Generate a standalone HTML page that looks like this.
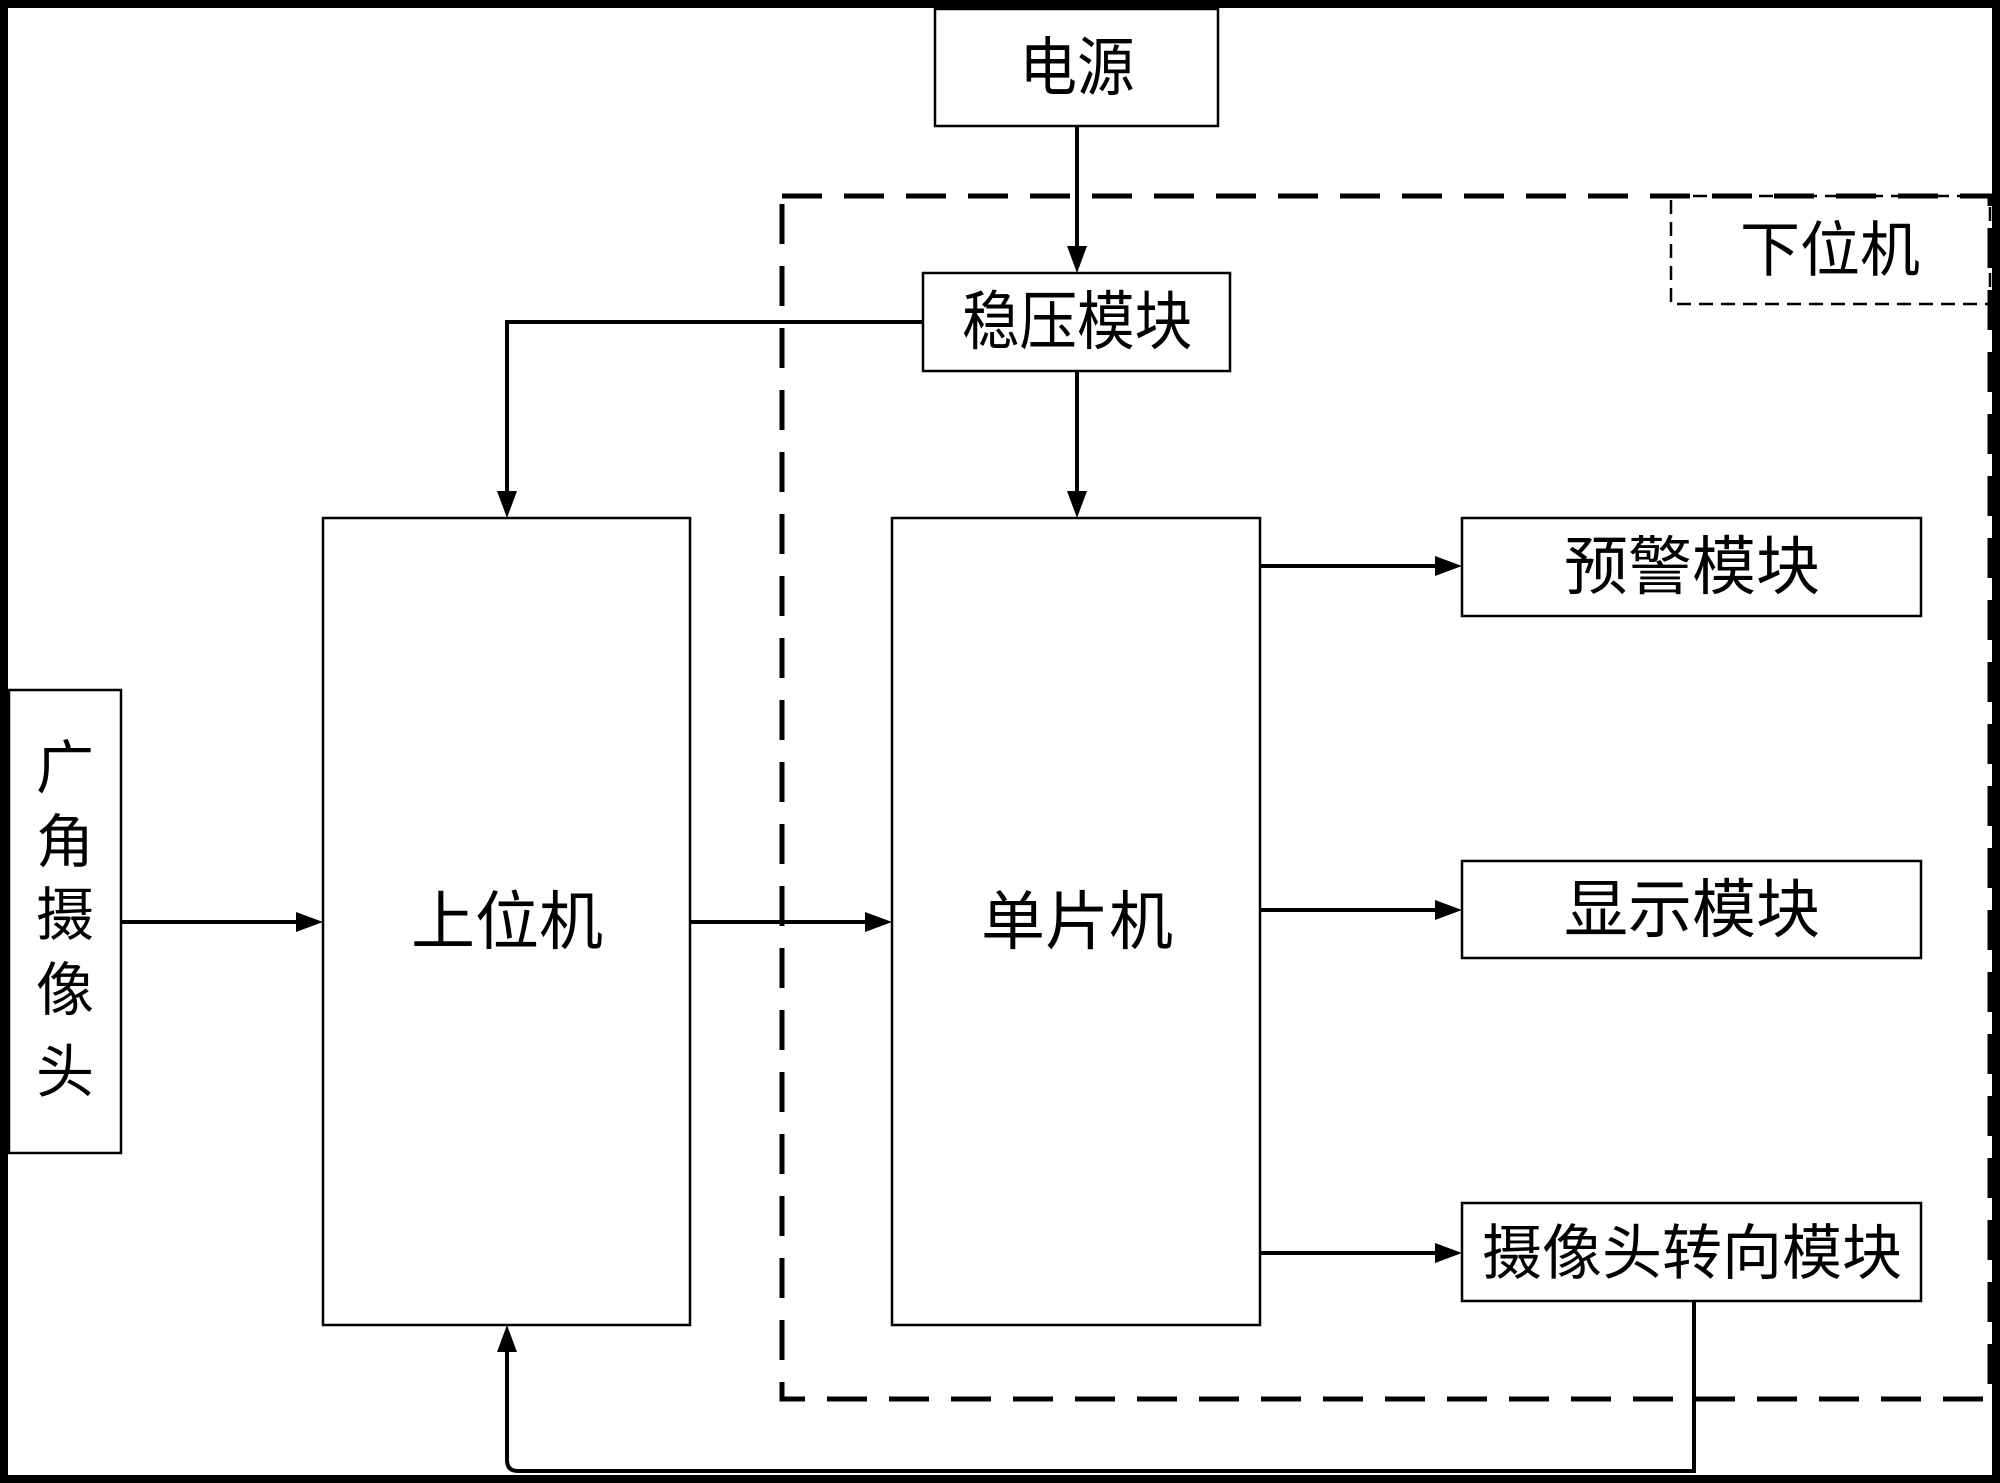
<!DOCTYPE html>
<html><head><meta charset="utf-8"><style>
html,body{margin:0;padding:0;background:#fff}
svg{display:block}
text{font-family:"Liberation Sans","Noto Sans CJK SC",sans-serif;fill:#000}
</style></head><body>
<svg width="2000" height="1483" viewBox="0 0 2000 1483" xmlns="http://www.w3.org/2000/svg">
<defs>
<marker id="a" markerWidth="10" markerHeight="10" refX="9" refY="5" orient="auto" markerUnits="userSpaceOnUse" viewBox="0 0 10 10">
</marker>
</defs>
<rect x="0" y="0" width="2000" height="1483" fill="#fff"/>
<rect x="4" y="4" width="1992" height="1475" fill="none" stroke="#000" stroke-width="8"/>
<!-- dashed big box -->
<rect x="782" y="196" width="1208" height="1203" fill="none" stroke="#000" stroke-width="5" stroke-dasharray="40,22"/>
<rect x="1671" y="196" width="319" height="108" fill="none" stroke="#000" stroke-width="2.5" stroke-dasharray="14,8"/>
<text x="1830" y="271" font-size="60" text-anchor="middle">下位机</text>
<!-- boxes -->
<g fill="#fff" stroke="#000" stroke-width="2.5">
<rect x="935" y="9" width="283" height="117"/>
<rect x="923" y="273" width="307" height="98"/>
<rect x="323" y="518" width="367" height="807"/>
<rect x="892" y="518" width="368" height="807"/>
<rect x="1462" y="518" width="459" height="98"/>
<rect x="1462" y="861" width="459" height="97"/>
<rect x="1462" y="1203" width="459" height="98"/>
<rect x="9" y="690" width="112" height="463"/>
</g>
<g font-size="64" text-anchor="middle">
<text x="1077" y="90" transform="translate(1077 0) scale(0.9 1) translate(-1077 0)">电源</text>
<text x="1077" y="344" transform="translate(1077 0) scale(0.9 1) translate(-1077 0)">稳压模块</text>
<text x="507" y="944">上位机</text>
<text x="1077" y="944">单片机</text>
<text x="1692" y="589">预警模块</text>
<text x="1692" y="932">显示模块</text>
<text x="1692" y="1274" font-size="60">摄像头转向模块</text>
</g>
<g font-size="58" text-anchor="middle">
<text x="65" y="788">广</text>
<text x="65" y="862">角</text>
<text x="65" y="935">摄</text>
<text x="65" y="1010">像</text>
<text x="65" y="1092">头</text>
</g>
<!-- connectors -->
<g stroke="#000" stroke-width="4" fill="none">
<line x1="1077" y1="126" x2="1077" y2="250"/>
<polyline points="923,322 507,322 507,495"/>
<line x1="1077" y1="371" x2="1077" y2="495"/>
<line x1="121" y1="922" x2="300" y2="922"/>
<line x1="690" y1="922" x2="869" y2="922"/>
<line x1="1260" y1="566" x2="1439" y2="566"/>
<line x1="1260" y1="910" x2="1439" y2="910"/>
<line x1="1260" y1="1253" x2="1439" y2="1253"/>
<path d="M1694,1301 V1471 H518 Q507,1471 507,1460 V1348"/>
</g>
<g fill="#000">
<polygon points="1067,246 1087,246 1077,273"/>
<polygon points="497,491 517,491 507,518"/>
<polygon points="1067,491 1087,491 1077,518"/>
<polygon points="296,912 296,932 323,922"/>
<polygon points="865,912 865,932 892,922"/>
<polygon points="1435,556 1435,576 1462,566"/>
<polygon points="1435,900 1435,920 1462,910"/>
<polygon points="1435,1243 1435,1263 1462,1253"/>
<polygon points="497,1352 517,1352 507,1325"/>
</g>
</svg>
</body></html>
